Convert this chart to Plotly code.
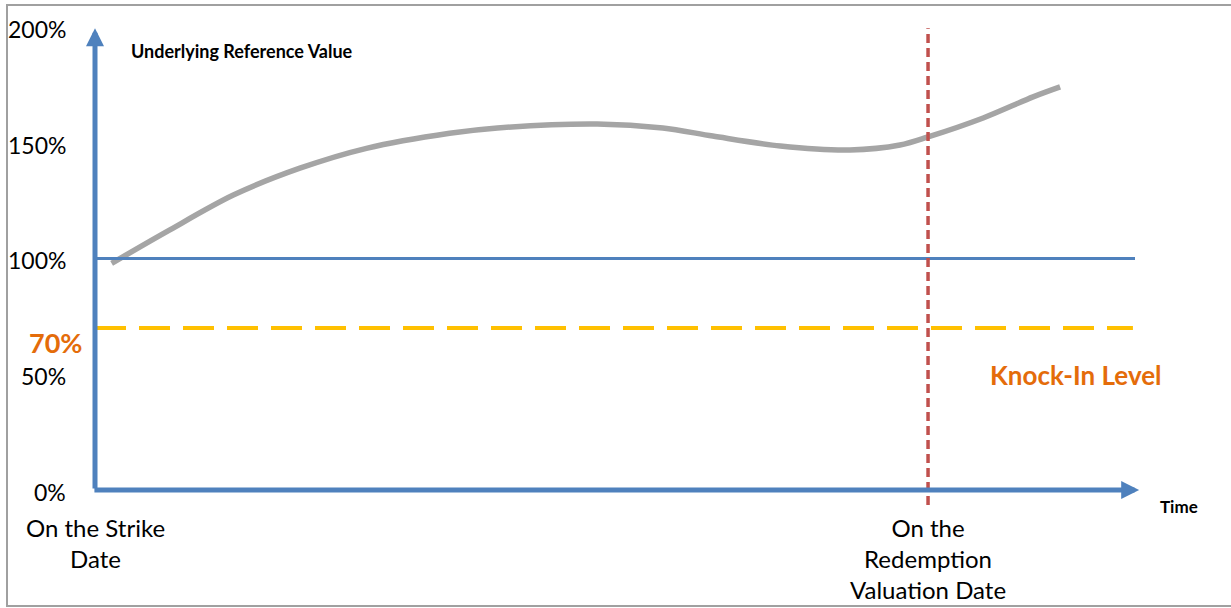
import plotly.graph_objects as go

# ---- data ----
curve_t = [0.16, 0.69, 1.33, 1.97, 2.61, 3.41, 3.87, 4.83, 5.46, 5.94, 6.59, 7.26, 7.74, 8.01, 8.54, 9.02, 9.28]
curve_v = [97.9, 111.6, 127.4, 139.0, 147.6, 154.1, 156.4, 158.1, 156.4, 152.9, 148.6, 146.9, 149.0, 152.5, 160.7, 169.8, 174.1]
ytick_vals = [0, 50, 100, 150, 200]
ytick_text = ["0%", "50%", "100%", "150%", "200%"]
initial_level = 100
knock_in_level = 70
t_start = 0
t_end = 10
t_redemption = 8.01
y_top = 200
strike_label = "On the Strike<br>Date"
redemption_label = "On the<br>Redemption<br>Valuation Date"

BLUE = "#4f81bd"
GREY = "#a5a5a5"
RED = "#c0504d"
YELLOW = "#ffc000"
ORANGE = "#e46c0a"
FONT = "Lato"

fig = go.Figure()

# underlying curve
fig.add_trace(go.Scatter(x=curve_t, y=curve_v, mode="lines",
                         line=dict(color=GREY, width=5.5, shape="spline", smoothing=0.9),
                         hoverinfo="skip", showlegend=False))

# 100% level line
fig.add_trace(go.Scatter(x=[t_start, t_end], y=[initial_level, initial_level], mode="lines",
                         line=dict(color=BLUE, width=3.2), showlegend=False, hoverinfo="skip"))
# knock-in dashed line
fig.add_trace(go.Scatter(x=[t_start, t_end * 0.998], y=[knock_in_level, knock_in_level], mode="lines",
                         line=dict(color=YELLOW, width=4, dash="31px,13px"), showlegend=False, hoverinfo="skip"))
# redemption vertical dashed line
fig.add_trace(go.Scatter(x=[t_redemption, t_redemption], y=[-6.5, 199.5], mode="lines",
                         line=dict(color=RED, width=3.5, dash="9px,5px"), showlegend=False, hoverinfo="skip"))

annotations = []
# axis arrows
annotations.append(dict(x=t_start, y=y_top - 0.5, ax=t_start, ay=0, xref="x", yref="y", axref="x", ayref="y",
                        text="", showarrow=True, arrowhead=2, arrowsize=0.72, arrowwidth=5, arrowcolor=BLUE, standoff=0))
annotations.append(dict(x=t_end + 0.04, y=0, ax=t_start - 0.02, ay=0, xref="x", yref="y", axref="x", ayref="y",
                        text="", showarrow=True, arrowhead=2, arrowsize=0.72, arrowwidth=5, arrowcolor=BLUE, standoff=0))

# y tick labels
for v, s in zip(ytick_vals, ytick_text):
    annotations.append(dict(x=-0.26, y=v - 0.8, xref="x", yref="y", text=s, showarrow=False,
                            xanchor="right", yanchor="middle", font=dict(family=FONT, size=23, color="#000000")))
# 70% label
annotations.append(dict(x=-0.11, y=knock_in_level - 6.3, xref="x", yref="y", text="<b>70%</b>", showarrow=False,
                        xanchor="right", yanchor="middle", font=dict(family=FONT, size=27, color=ORANGE)))
# Knock-In Level
annotations.append(dict(x=(988 - 95) / 104, y=49.5, xref="x", yref="y", text="<b>Knock-In Level</b>", showarrow=False,
                        xanchor="left", yanchor="middle", font=dict(family=FONT, size=26, color=ORANGE)))
# axis titles
annotations.append(dict(x=(129 - 95) / 104, y=189.5, xref="x", yref="y", text="<b>Underlying Reference Value</b>",
                        showarrow=False, xanchor="left", yanchor="middle", font=dict(family=FONT, size=18, color="#000000")))
annotations.append(dict(x=(1158 - 95) / 104, y=-7.3, xref="x", yref="y", text="<b>Time</b>",
                        showarrow=False, xanchor="left", yanchor="middle", font=dict(family=FONT, size=17, color="#000000")))
# x category labels
annotations.append(dict(x=t_start, y=-9.1, xref="x", yref="y", text=strike_label, showarrow=False,
                        xanchor="center", yanchor="top", align="center",
                        font=dict(family=FONT, size=24, color="#000000")))
annotations.append(dict(x=t_redemption, y=-9.1, xref="x", yref="y", text=redemption_label, showarrow=False,
                        xanchor="center", yanchor="top", align="center",
                        font=dict(family=FONT, size=24, color="#000000")))

fig.update_layout(
    width=1231, height=608,
    margin=dict(l=0, r=0, t=0, b=0),
    paper_bgcolor="white", plot_bgcolor="white",
    xaxis=dict(range=[-95 / 104, (1231 - 95) / 104], visible=False, fixedrange=True),
    yaxis=dict(range=[(490 - 608) / 2.315, 490 / 2.315], visible=False, fixedrange=True),
    annotations=annotations,
    shapes=[dict(type="rect", xref="paper", yref="paper",
                 x0=7 / 1231, x1=1240 / 1231, y0=1 - 606 / 608, y1=1 - 5 / 608,
                 line=dict(color="#a0a0a0", width=2), fillcolor="rgba(0,0,0,0)", layer="below")],
    showlegend=False,
)

fig.write_html("out.html", config={"displayModeBar": False},
               post_script="document.body.style.margin='0';document.body.style.overflow='hidden';")
